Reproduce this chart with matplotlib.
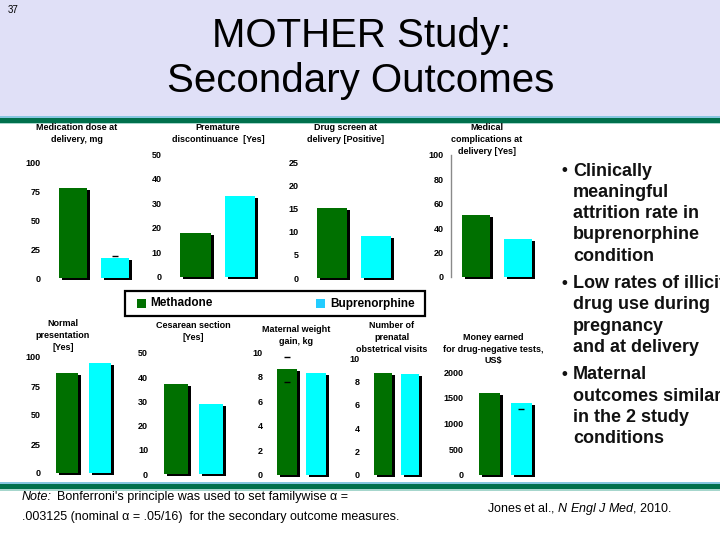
import matplotlib
matplotlib.use('Agg')
import matplotlib.pyplot as plt
from matplotlib.patches import Rectangle
import matplotlib.transforms as mtransforms

plt.rcParams['font.family'] = ['Liberation Sans', 'DejaVu Sans']
plt.rcParams['mathtext.fontset'] = 'custom'
plt.rcParams['mathtext.rm'] = 'Liberation Sans'
plt.rcParams['mathtext.it'] = 'Liberation Sans:italic'

# ---------------- data ----------------
groups = ['Methadone', 'Buprenorphine']
panel_titles = [
    'Medication dose at\ndelivery, mg',
    'Premature\ndiscontinuance  [Yes]',
    'Drug screen at\ndelivery [Positive]',
    'Medical\ncomplications at\ndelivery [Yes]',
    'Normal\npresentation\n[Yes]',
    'Cesarean section\n[Yes]',
    'Maternal weight\ngain, kg',
    'Number of\nprenatal\nobstetrical visits',
    'Money earned\nfor drug-negative tests,\nUS$',
]
methadone = [78, 18, 15, 51, 86, 37, 8.6, 8.7, 1590]
buprenorphine = [17.5, 33, 9, 31, 95, 29, 8.3, 8.6, 1400]
y_max = [100, 50, 25, 100, 100, 50, 10, 10, 2000]
y_step = [25, 10, 5, 20, 25, 10, 2, 2, 500]
# small error-bar caps visible in the picture: (panel, bar, value)
caps = [(0, 1, 19), (6, 0, 9.6), (6, 0, 7.6), (8, 1, 1280)]

bullets = [
    ['Clinically', 'meaningful', 'attrition rate in', 'buprenorphine', 'condition'],
    ['Low rates of illicit', 'drug use during', 'pregnancy', 'and at delivery'],
    ['Maternal', 'outcomes similar', 'in the 2 study', 'conditions'],
]

# ---------------- layout (pixels) ----------------
W, H = 720, 540
# (first bar centre x, bar spacing, y of value 0, y of max value, bar width)
panel_layout = [
    (73, 42, 278, 163, 0.667),
    (195.5, 44.5, 277, 154, 0.69),
    (332, 44, 278, 162, 0.68),
    (476, 42, 277, 155, 0.667),
    (67, 33, 473, 357, 0.667),
    (176, 35, 474, 353, 0.686),
    (287, 29, 475, 352, 0.69),
    (383, 27, 475, 358, 0.67),
    (489.5, 32, 475, 372, 0.66),
]
title_pos = [(77, 127), (218, 127), (346, 127), (487, 127),
             (63, 323), (193, 325), (296, 329), (392, 325), (493, 337)]
bar_colors = ['#007000', '#00FFFF']
legend_colors = ['#007000', '#22CCFF']

fig = plt.figure(figsize=(7.2, 5.4), dpi=100)
fig.patch.set_facecolor('white')


def px_rect(x0, y0, w, h, **kw):
    r = Rectangle((x0 / W, 1 - (y0 + h) / H), w / W, h / H,
                  transform=fig.transFigure, **kw)
    fig.patches.append(r)
    return r


# background bands
px_rect(0, 0, W, 117, facecolor='#E0E0F7', edgecolor='none')
px_rect(0, 116, W, 2, facecolor='#86C6E0', edgecolor='none')
px_rect(0, 118, W, 4.5, facecolor='#00704C', edgecolor='none')
px_rect(0, 122.5, W, 1.5, facecolor='#A6D6CC', edgecolor='none')
px_rect(0, 481.5, W, 2, facecolor='#86C6E0', edgecolor='none')
px_rect(0, 483.5, W, 5.5, facecolor='#00704C', edgecolor='none')
px_rect(0, 489, W, 1.5, facecolor='#A6D6CC', edgecolor='none')

# titles
fig.text(8 / W, 1 - 10 / H, '37', fontsize=7, ha='left', va='center')
fig.text(362 / W, 1 - 36 / H, 'MOTHER Study:', fontsize=29, ha='center', va='center')
fig.text(361 / W, 1 - 81 / H, 'Secondary Outcomes', fontsize=29, ha='center', va='center')

shadow_off = mtransforms.ScaledTranslation(3 / 100, -2 / 100, fig.dpi_scale_trans)

axes = []
for i, (c0, sp, y0, yt, bw) in enumerate(panel_layout):
    left = c0 - 0.6 * sp
    width = 2.2 * sp
    ax = fig.add_axes([left / W, 1 - y0 / H, width / W, (y0 - yt) / H])
    ax.set_facecolor('none')
    vals = [methadone[i], buprenorphine[i]]
    ax.bar(range(2), vals, width=bw, color='black', zorder=1,
           transform=ax.transData + shadow_off, clip_on=False)
    ax.bar(range(2), vals, width=bw, color=bar_colors, zorder=2, clip_on=False)
    ax.set_xlim(-0.6, 1.6)
    ax.set_ylim(0, y_max[i])
    ticks = [k * y_step[i] for k in range(int(round(y_max[i] / y_step[i])) + 1)]
    ax.set_yticks(ticks)
    ax.set_yticklabels([str(t) for t in ticks])
    ax.set_xticks([])
    ax.tick_params(axis='y', length=0, pad=5, labelsize=6.5)
    for lab in ax.get_yticklabels():
        lab.set_fontweight('bold')
    for s in ax.spines.values():
        s.set_visible(False)
    if i == 3:
        ax.spines['left'].set_visible(True)
        ax.spines['left'].set_color('#8A8A8A')
        ax.spines['left'].set_linewidth(1)
    axes.append(ax)
    tx, ty = title_pos[i]
    for k, line in enumerate(panel_titles[i].split('\n')):
        fig.text(tx / W, 1 - (ty + 12 * k) / H, line, fontsize=6.5,
                 fontweight='bold', ha='center', va='center')

for (p, b, v) in caps:
    axes[p].plot([b], [v], marker='_', markersize=5, color='black',
                 markeredgewidth=1, zorder=3, clip_on=False)

# legend box
px_rect(125, 291, 300, 25, fill=False, edgecolor='black', linewidth=1.6)
leg_x = [(137, 150), (316, 330)]
for (sx, tx), name, col in zip(leg_x, groups, legend_colors):
    px_rect(sx, 299, 9, 9, facecolor=col, edgecolor='none')
    fig.text(tx / W, 1 - 303.5 / H, name, fontsize=8.5, fontweight='bold',
             ha='left', va='center')

# right-hand bullet text (cut at the right edge, as in the slide)
y_line = 171
for g, lines in enumerate(bullets):
    for k, line in enumerate(lines):
        if k == 0:
            fig.text(562 / W, 1 - y_line / H, '\u2022', fontsize=12,
                     fontweight='bold', ha='left', va='center', color='#111111')
        fig.text(573 / W, 1 - y_line / H, line, fontsize=13, fontweight='bold',
                 ha='left', va='center', color='#111111')
        y_line += 21.3
    y_line += 6

# footnotes
fig.text(22 / W, 1 - 497 / H, 'Note:', fontsize=9, style='italic',
         ha='left', va='center')
fig.text(57 / W, 1 - 497 / H,
         "Bonferroni's principle was used to set familywise α =",
         fontsize=9, ha='left', va='center')
fig.text(22 / W, 1 - 517 / H,
         ".003125 (nominal α = .05/16)  for the secondary outcome measures.",
         fontsize=9, ha='left', va='center')
fig.text(487 / W, 1 - 509 / H, r"Jones et al., $\it{N\ Engl\ J\ Med}$, 2010.",
         fontsize=9, ha='left', va='center')

fig.savefig('out.png', dpi=100)
